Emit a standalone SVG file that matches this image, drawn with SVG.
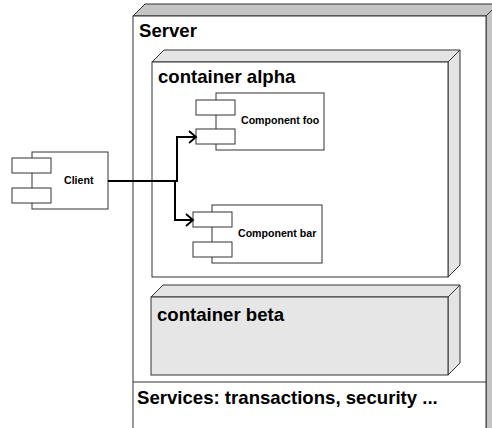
<svg xmlns="http://www.w3.org/2000/svg" width="492" height="428" viewBox="0 0 492 428">
<style>
.lbl{font-family:"Liberation Sans",Arial,sans-serif;font-weight:bold;fill:#000}
.big{font-size:18.6px}
.sm{font-size:10.6px}
.edge{stroke:#333;stroke-width:1}
.comp{fill:#fff;stroke:#333;stroke-width:1}
.conn{fill:none;stroke:#000;stroke-width:2}
</style>
<defs>
<marker id="arr" markerUnits="userSpaceOnUse" markerWidth="12" markerHeight="16" refX="9" refY="7" orient="auto">
<path d="M2,1 L9,7 L2,13" fill="none" stroke="#000" stroke-width="1.8"/>
</marker>
</defs>
<rect width="492" height="428" fill="#fff"/>
<g id="server">
<polygon class="edge" points="133,16 145,4 498,4 486,16" fill="#c4c4c4"/>
<polygon class="edge" points="486,16 498,4 498,440 486,452" fill="#c4c4c4"/>
<rect class="edge" x="133" y="16" width="353" height="440" fill="#fff"/>
<line class="edge" x1="133" y1="382" x2="486" y2="382"/>
<text class="lbl big" x="139" y="37">Server</text>
<text class="lbl big" x="137" y="404">Services: transactions, security ...</text>
</g>
<g id="container-alpha">
<polygon class="edge" points="152,62 164,50 460,50 448,62" fill="#e4e4e4"/>
<polygon class="edge" points="448,62 460,50 460,265 448,277" fill="#e4e4e4"/>
<rect class="edge" x="152" y="62" width="296" height="215" fill="#fff"/>
<text class="lbl big" x="158" y="83">container alpha</text>
</g>
<g id="container-beta">
<polygon class="edge" points="151,297 163,285 460,285 448,297" fill="#e4e4e4"/>
<polygon class="edge" points="448,297 460,285 460,363 448,375" fill="#e4e4e4"/>
<rect class="edge" x="151" y="297" width="297" height="78" fill="#e6e6e6"/>
<text class="lbl big" x="157" y="321">container beta</text>
</g>
<g id="client">
<rect class="comp" x="32" y="152" width="76" height="57"/>
<rect class="comp" x="12" y="158" width="39" height="15"/>
<rect class="comp" x="12" y="188" width="39" height="15"/>
<text class="lbl sm" x="64" y="184">Client</text>
</g>
<g id="component-foo">
<rect class="comp" x="216" y="93" width="108" height="57"/>
<rect class="comp" x="196" y="100" width="39" height="15"/>
<rect class="comp" x="196" y="129" width="39" height="15"/>
<text class="lbl sm" x="241" y="124">Component foo</text>
</g>
<g id="component-bar">
<rect class="comp" x="212" y="205" width="110" height="58"/>
<rect class="comp" x="193" y="212" width="39" height="15"/>
<rect class="comp" x="193" y="242" width="39" height="15"/>
<text class="lbl sm" x="238" y="237">Component bar</text>
</g>
<g id="connectors">
<path class="conn" d="M108,181 H177 V137 H196" marker-end="url(#arr)"/>
<path class="conn" d="M108,181 H175 V220 H193" marker-end="url(#arr)"/>
</g>
</svg>
